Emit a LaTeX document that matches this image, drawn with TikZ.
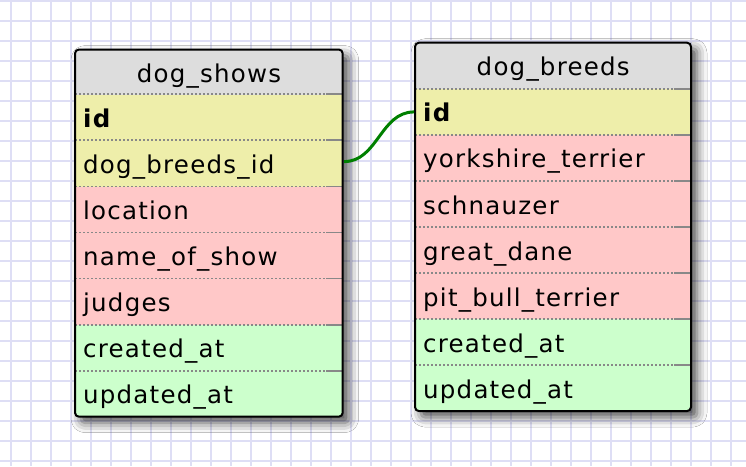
\documentclass[tikz,border=0pt]{standalone}
\usepackage{fontspec}
\setmainfont{DejaVu Sans}[LetterSpace=5]
\usetikzlibrary{shadows.blur}
\definecolor{gridc}{RGB}{222,222,245}
\definecolor{hdrc}{RGB}{221,221,221}
\definecolor{keyc}{RGB}{238,238,170}
\definecolor{redc}{RGB}{255,200,200}
\definecolor{grnc}{RGB}{204,255,204}
\definecolor{sepc}{RGB}{136,136,136}
\definecolor{linkc}{RGB}{0,128,0}
\begin{document}
\begin{tikzpicture}[x=1pt,y=-1pt,
  font=\fontsize{24.5}{28}\selectfont,
  rowA/.style={anchor=north west, inner xsep=8pt, inner ysep=0pt, text height=33pt, text depth=13.06pt, text width=251.7pt, align=left},
  rowB/.style={anchor=north west, inner xsep=8pt, inner ysep=0pt, text height=33pt, text depth=13.06pt, text width=260pt, align=left},
  tbl/.style={rounded corners=4pt, fill=white, blur shadow={shadow xshift=6pt, shadow yshift=-6pt, shadow blur radius=10pt, shadow opacity=70}},
  border/.style={draw=black, line width=2pt, rounded corners=4pt},
  sep/.style={draw=sepc, line width=1.8pt, dash pattern=on 1.8pt off 2.2pt},
  sepend/.style={draw=sepc, line width=1.8pt},
  conn/.style={draw=linkc, line width=3pt}
]
\useasboundingbox (0,0) rectangle (746,466);
\fill[white] (0,0) rectangle (746,466);
\foreach \gx in {10.7,30.7,...,740} \draw[gridc, line width=1.6pt] (\gx,0) -- (\gx,466);
\foreach \gy in {0.7,20.7,...,466} \draw[gridc, line width=1.6pt] (0,\gy) -- (746,\gy);

% ---------- dog_shows ----------
\path[tbl] (75,49.5) rectangle (342.7,416.7);
\begin{scope}
\clip[rounded corners=4pt] (75,49.5) rectangle (342.7,416.7);
\node[rowA, fill=hdrc, align=center, text height=33.2pt, text depth=11.6pt] (sh) at (75,49.5) {dog\_shows};
\node[rowA, fill=keyc] (s1) at (75,94.3) {\textbf{id}};
\node[rowA, fill=keyc] (s2) at (75,140.36) {dog\_breeds\_id};
\node[rowA, fill=redc] (s3) at (75,186.42) {location};
\node[rowA, fill=redc] (s4) at (75,232.48) {name\_of\_show};
\node[rowA, fill=redc] (s5) at (75,278.54) {judges};
\node[rowA, fill=grnc] (s6) at (75,324.6) {created\_at};
\node[rowA, fill=grnc] (s7) at (75,370.66) {updated\_at};
\foreach \n in {s1,s2,s3,s4,s5,s6,s7} {
  \draw[sep] (\n.north west) -- ([xshift=-17pt]\n.north east);
  \draw[sepend] ([xshift=-17pt]\n.north east) -- (\n.north east);
}
\end{scope}
\path[border] (75,49.5) rectangle (342.7,416.7);

% ---------- dog_breeds ----------
\path[tbl] (415,42.7) rectangle (691,411.1);
\begin{scope}
\clip[rounded corners=4pt] (415,42.7) rectangle (691,411.1);
\node[rowB, fill=hdrc, align=center, text height=32.3pt, text depth=13.7pt] (bh) at (415,42.7) {dog\_breeds};
\node[rowB, fill=keyc] (b1) at (415,88.7) {\textbf{id}};
\node[rowB, fill=redc] (b2) at (415,134.76) {yorkshire\_terrier};
\node[rowB, fill=redc] (b3) at (415,180.82) {schnauzer};
\node[rowB, fill=redc] (b4) at (415,226.88) {great\_dane};
\node[rowB, fill=redc] (b5) at (415,272.94) {pit\_bull\_terrier};
\node[rowB, fill=grnc] (b6) at (415,319.0) {created\_at};
\node[rowB, fill=grnc] (b7) at (415,365.06) {updated\_at};
\foreach \n in {b1,b2,b3,b4,b5,b6,b7} {
  \draw[sep] (\n.north west) -- ([xshift=-17pt]\n.north east);
  \draw[sepend] ([xshift=-17pt]\n.north east) -- (\n.north east);
}
\end{scope}
\path[border] (415,42.7) rectangle (691,411.1);

% ---------- link ----------
\draw[conn] ([xshift=1pt,yshift=2pt]s2.east) to[out=0,in=180] ([xshift=-1pt]b1.west);
\end{tikzpicture}
\end{document}
